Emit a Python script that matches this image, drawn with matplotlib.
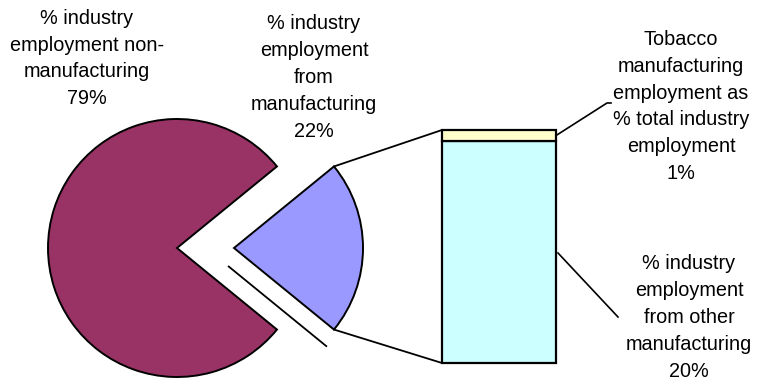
import numpy as np
import matplotlib
matplotlib.use("Agg")
import matplotlib.pyplot as plt

# Share of industry employment (%)
pie_labels = ["% industry\nemployment\nfrom\nmanufacturing\n22%",
              "% industry\nemployment non-\nmanufacturing\n79%"]
pie_values = [22, 79]
pie_colors = ["#9999FF", "#993366"]

# Breakdown of the manufacturing share
bar_labels = ["% industry\nemployment\nfrom other\nmanufacturing\n20%",
              "Tobacco\nmanufacturing\nemployment as\n% total industry\nemployment\n1%"]
bar_values = [20, 1]
bar_colors = ["#CCFFFF", "#FFFFCC"]

W, H, DPI = 758, 383, 100
fig = plt.figure(figsize=(W / DPI, H / DPI), dpi=DPI)
ax = fig.add_axes([0, 0, 1, 1])

FONT = dict(family=["Liberation Sans", "DejaVu Sans"], size=14.3,
            ha="center", va="center", linespacing=1.53, color="black")

# --- pie ---------------------------------------------------------------
radius = 129
center = (177, 135)
explode_px = 57
small_span = pie_values[0] / sum(pie_values) * 360.0
# explode is applied in data units by Axes.pie
wedges, _ = ax.pie(pie_values, colors=pie_colors, radius=radius, center=center,
                   startangle=-small_span / 2, counterclock=True,
                   explode=[explode_px, 0],
                   wedgeprops=dict(edgecolor="black", linewidth=1.4),
                   frame=True)

half = np.deg2rad(small_span / 2)
sc = (center[0] + explode_px, center[1])
tip_top = (sc[0] + radius * np.cos(half), sc[1] + radius * np.sin(half))
tip_bot = (sc[0] + radius * np.cos(half), sc[1] - radius * np.sin(half))

# thin rule running alongside the lower edge of the exploded slice
d = np.array([np.cos(-half), np.sin(-half)])
n = np.array([-np.sin(half), -np.cos(half)])
p0 = np.array(sc) + 6.7 * d + 17.7 * n
p1 = p0 + radius * 0.99 * d
ax.plot([p0[0], p1[0]], [p0[1], p1[1]], color="black", lw=1.3,
        solid_capstyle="butt")

# --- stacked bar -------------------------------------------------------
bar_x, bar_w, bar_bottom = 499, 114, 20
px_per_pct = 233 / sum(bar_values)
bottom = bar_bottom
tops = []
for v, c in zip(bar_values, bar_colors):
    ax.bar(bar_x, v * px_per_pct, width=bar_w, bottom=bottom, color=c,
           edgecolor="black", linewidth=1.6)
    bottom += v * px_per_pct
    tops.append(bottom)
bar_left = bar_x - bar_w / 2
bar_right = bar_x + bar_w / 2

# connectors between the slice and the bar
ax.plot([tip_top[0], bar_left], [tip_top[1], tops[-1]], color="black", lw=1.3)
ax.plot([tip_bot[0], bar_left], [tip_bot[1], bar_bottom], color="black", lw=1.3)

# --- labels and leaders ------------------------------------------------
ax.text(87, 324.5, pie_labels[1], **FONT)
ax.text(314, 305.5, pie_labels[0], **FONT)

ytob = (tops[0] + tops[1]) / 2
ax.plot([bar_right, 607, 611], [ytob, 280, 280], color="black", lw=1.2)
ax.text(681, 276.5, bar_labels[1], **FONT)

ax.plot([bar_right + 2, 618], [130, 66], color="black", lw=1.2)
ax.text(689, 65.5, bar_labels[0], **FONT)

ax.set_xlim(0, W)
ax.set_ylim(0, H)
ax.set_aspect("auto")
ax.axis("off")

fig.savefig("out.png", dpi=DPI, facecolor="white")
